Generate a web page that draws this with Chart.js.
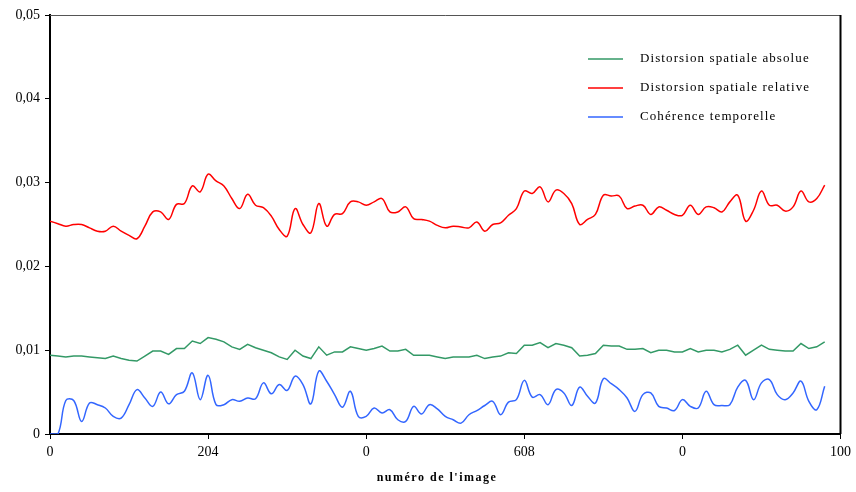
<!DOCTYPE html>
<html>
<head>
<meta charset="utf-8">
<script src="https://cdn.jsdelivr.net/npm/chart.js@4"></script>
<style>
  body { margin: 0; background: #fff; }
  #wrap { width: 856px; height: 492px; }
</style>
</head>
<body>
<div id="wrap"><canvas id="plot_1" width="856" height="492"></canvas></div>
<script>
// valeurs (une valeur par image)
const absolue = [0.0094,0.0093,0.0092,0.0093,0.0093,0.0092,0.0091,0.0090,0.0093,0.0090,
  0.0088,0.0087,0.0093,0.0099,0.0099,0.0095,0.0102,0.0102,0.0111,0.0108,
  0.0115,0.0113,0.0110,0.0104,0.0101,0.0107,0.0103,0.0100,0.0097,0.0092,
  0.0089,0.0100,0.0093,0.0090,0.0104,0.0094,0.0098,0.0098,0.0104,0.0102,
  0.0100,0.0102,0.0105,0.0099,0.0099,0.0101,0.0094,0.0094,0.0094,0.0092,
  0.0090,0.0092,0.0092,0.0092,0.0094,0.0090,0.0092,0.0093,0.0097,0.0096,
  0.0106,0.0106,0.0109,0.0103,0.0108,0.0106,0.0103,0.0093,0.0094,0.0096,
  0.0106,0.0105,0.0105,0.0101,0.0101,0.0102,0.0097,0.0100,0.0100,0.0098,
  0.0098,0.0102,0.0098,0.0100,0.0100,0.0098,0.0101,0.0106,0.0094,0.0100,
  0.0106,0.0101,0.0100,0.0099,0.0099,0.0108,0.0102,0.0104,0.0110];

const relative = [0.0254,0.0251,0.0248,0.0250,0.0250,0.0246,0.0242,0.0242,0.0248,0.0242,
  0.0237,0.0233,0.0248,0.0265,0.0265,0.0256,0.0274,0.0275,0.0296,0.0289,
  0.0310,0.0302,0.0296,0.0281,0.0269,0.0286,0.0273,0.0270,0.0260,0.0244,
  0.0236,0.0269,0.0250,0.0240,0.0275,0.0248,0.0262,0.0263,0.0277,0.0277,
  0.0273,0.0277,0.0281,0.0265,0.0265,0.0271,0.0257,0.0256,0.0254,0.0249,
  0.0246,0.0248,0.0247,0.0246,0.0253,0.0242,0.0250,0.0252,0.0261,0.0269,
  0.0290,0.0287,0.0295,0.0277,0.0291,0.0287,0.0275,0.0250,0.0256,0.0262,
  0.0285,0.0284,0.0284,0.0269,0.0272,0.0273,0.0262,0.0271,0.0267,0.0262,
  0.0261,0.0273,0.0262,0.0271,0.0270,0.0265,0.0277,0.0285,0.0254,0.0267,
  0.0290,0.0273,0.0273,0.0266,0.0271,0.0290,0.0277,0.0281,0.0297];

const coherence = [0,0,0.0040,0.0040,0.0015,0.0037,0.0035,0.0031,0.0021,0.0019,
  0.0035,0.0053,0.0043,0.0033,0.0050,0.0036,0.0047,0.0051,0.0073,0.0041,
  0.0070,0.0035,0.0035,0.0041,0.0039,0.0043,0.0042,0.0061,0.0048,0.0059,
  0.0052,0.0069,0.0059,0.0036,0.0075,0.0063,0.0047,0.0032,0.0051,0.0021,
  0.0021,0.0031,0.0025,0.0029,0.0017,0.0015,0.0033,0.0024,0.0035,0.0030,
  0.0021,0.0017,0.0013,0.0023,0.0028,0.0034,0.0039,0.0023,0.0038,0.0041,
  0.0064,0.0044,0.0047,0.0035,0.0053,0.0049,0.0034,0.0056,0.0045,0.0037,
  0.0066,0.0060,0.0053,0.0043,0.0027,0.0047,0.0049,0.0033,0.0031,0.0028,
  0.0041,0.0033,0.0031,0.0051,0.0035,0.0034,0.0035,0.0056,0.0064,0.0041,
  0.0061,0.0065,0.0047,0.0041,0.0049,0.0063,0.0039,0.0029,0.0057];

const tickPos = [0, 20, 40, 60, 80, 100];
const tickLabels = ['0', '204', '0', '608', '0', '100'];
const titreX = "numéro de l'image";

const toPoints = arr => arr.map((v, i) => ({ x: i, y: v }));

// cadre, titre de l'axe et légende dans la zone du graphique
const cadre = {
  id: 'cadre',
  afterDraw(chart) {
    const ctx = chart.ctx, a = chart.chartArea;
    ctx.save();
    ctx.strokeStyle = '#555';
    ctx.lineWidth = 1;
    ctx.beginPath();
    ctx.moveTo(a.left, a.top + 0.5);
    ctx.lineTo(a.right, a.top + 0.5);
    ctx.stroke();
    ctx.strokeStyle = '#000';
    ctx.lineWidth = 2;
    ctx.beginPath();
    ctx.moveTo(a.right, a.top);
    ctx.lineTo(a.right, a.bottom);
    ctx.stroke();

    ctx.fillStyle = '#000';
    ctx.textBaseline = 'middle';
    ctx.textAlign = 'center';
    ctx.font = 'bold 12px "Liberation Serif"';
    ctx.letterSpacing = '1.5px';
    ctx.fillText(titreX, 437, 478);

    ctx.textAlign = 'left';
    ctx.font = '13px "Liberation Serif"';
    ctx.letterSpacing = '1.1px';
    chart.data.datasets.forEach((ds, k) => {
      const y = 59 + k * 29;
      ctx.strokeStyle = ds.borderColor;
      ctx.lineWidth = 1.5;
      ctx.beginPath();
      ctx.moveTo(588, y);
      ctx.lineTo(623, y);
      ctx.stroke();
      ctx.fillText(ds.label, 640, y);
    });
    ctx.restore();
  }
};

const plot_1 = document.getElementById('plot_1');
const grafico = new Chart(plot_1, {
  type: 'line',
  data: {
    datasets: [
      { label: 'Distorsion spatiale absolue', data: toPoints(absolue), borderColor: '#339966', borderWidth: 1.5, tension: 0, pointRadius: 0 },
      { label: 'Distorsion spatiale relative', data: toPoints(relative), borderColor: '#ff0000', borderWidth: 1.5, tension: 0.4, pointRadius: 0 },
      { label: 'Cohérence temporelle', data: toPoints(coherence), borderColor: '#3366ff', borderWidth: 1.5, tension: 0.4, pointRadius: 0 }
    ]
  },
  options: {
    responsive: false,
    animation: false,
    layout: { padding: { top: 15, right: 13, left: 0, bottom: 0 } },
    plugins: { legend: { display: false }, tooltip: { enabled: false } },
    scales: {
      x: {
        type: 'linear', min: 0, max: 100,
        afterBuildTicks: s => { s.ticks = tickPos.map(v => ({ value: v })); },
        afterFit: s => { s.height = 58; },
        grid: { drawOnChartArea: false, drawTicks: true, tickLength: 5, tickColor: '#000' },
        border: { color: '#000', width: 2 },
        ticks: {
          autoSkip: false, maxRotation: 0, padding: 5, color: '#000',
          font: { family: 'Liberation Serif', size: 14 },
          callback: (v) => tickLabels[tickPos.indexOf(v)]
        }
      },
      y: {
        min: 0, max: 0.05,
        afterFit: s => { s.width = 50; },
        grid: { drawOnChartArea: false, drawTicks: true, tickLength: 5, tickColor: '#000' },
        border: { color: '#000', width: 2 },
        ticks: {
          stepSize: 0.01, padding: 5, color: '#000',
          font: { family: 'Liberation Serif', size: 14 },
          callback: v => v === 0 ? '0' : v.toFixed(2).replace('.', ',')
        }
      }
    }
  },
  plugins: [cadre]
});
</script>
</body>
</html>
